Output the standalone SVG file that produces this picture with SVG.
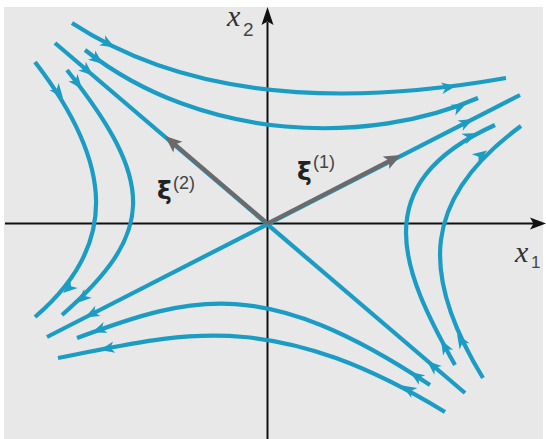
<svg xmlns="http://www.w3.org/2000/svg" xmlns:xlink="http://www.w3.org/1999/xlink" width="546" height="439" viewBox="0 0 546 439">
<style>
.traj{fill:none;stroke:#1a9cc4;stroke-width:4.2;stroke-linecap:butt}
.axis{fill:none;stroke:#111;stroke-width:2}
.vec{fill:none;stroke:#6a6a6a;stroke-width:4.2}
.lab{font-family:"Liberation Serif","Times New Roman",serif;font-style:italic;fill:#333}
.sub{font-family:"Liberation Sans",Arial,sans-serif;fill:#444}
.xi{font-family:"DejaVu Sans","Liberation Sans",sans-serif;font-weight:bold;fill:#222}
</style>
<defs>
<path id="ah" d="M0,0 L-14.5,-5.8 L-10.5,0 L-14.5,5.8 Z" fill="#1a9cc4"/>
<path id="gh" d="M0,0 L-17,-7 L-13,0 L-17,7 Z" fill="#6a6a6a"/>
</defs>
<rect x="0" y="0" width="546" height="439" fill="#ffffff"/>
<rect x="4" y="7" width="539" height="432" fill="#e8e8e8"/>

<g id="axes">
<path class="axis" d="M5,223.5 H534"/>
<path d="M546,223.5 L530,217.5 L533.5,223.5 L530,229.5 Z" fill="#111"/>
<path class="axis" d="M267.5,439 V22"/>
<path d="M267.5,7 L261.5,25 L267.5,21.5 L273.5,25 Z" fill="#111"/>
<text class="lab" x="227" y="26" font-size="30">x</text>
<text class="sub" x="243" y="36" font-size="19">2</text>
<text class="lab" x="515" y="262" font-size="30">x</text>
<text class="sub" x="531" y="268" font-size="17">1</text>
</g>

<g id="connectors">
<path class="traj" d="M55,43 L465,393"/>
<path class="traj" d="M47,337 L520,95"/>
<path class="traj" d="M72,23 C197,105 358,104 506,78"/>
<path class="traj" d="M85,50 C203.5,143 370,145 478,98"/>
<path class="traj" d="M35,62 C114.3,164.7 118.6,245.5 35,317"/>
<path class="traj" d="M67,70 C156.9,183.1 155,233.2 62,315"/>
<path class="traj" d="M430,385 C264.3,275.2 193.6,294.6 77,338"/>
<path class="traj" d="M445,412 C268.7,304.3 176.9,335 58,358"/>
<path class="traj" d="M455,365 C402.2,271.2 363.8,184.1 495,125"/>
<path class="traj" d="M483,378 C419.3,273.9 421.9,198.2 521,126"/>

<use xlink:href="#ah" transform="translate(114.6,47.5) rotate(30)"/>
<use xlink:href="#ah" transform="translate(456,86) rotate(-9)"/>
<use xlink:href="#ah" transform="translate(103,64) rotate(38)"/>
<use xlink:href="#ah" transform="translate(466,104) rotate(-25)"/>
<use xlink:href="#ah" transform="translate(93,75.5) rotate(40.4)"/>
<use xlink:href="#ah" transform="translate(427,361) rotate(-139.6)"/>
<use xlink:href="#ah" transform="translate(473,119) rotate(-27)"/>
<use xlink:href="#ah" transform="translate(85,317.5) rotate(153)"/>
<use xlink:href="#ah" transform="translate(63,98) rotate(52)"/>
<use xlink:href="#ah" transform="translate(63,293) rotate(139.5)"/>
<use xlink:href="#ah" transform="translate(82,89) rotate(51.5)"/>
<use xlink:href="#ah" transform="translate(77,303) rotate(139)"/>
<use xlink:href="#ah" transform="translate(410,372) rotate(-146.5)"/>
<use xlink:href="#ah" transform="translate(92,332.4) rotate(159.6)"/>
<use xlink:href="#ah" transform="translate(402,385.5) rotate(-148.6)"/>
<use xlink:href="#ah" transform="translate(100,349.9) rotate(169)"/>
<use xlink:href="#ah" transform="translate(441,340) rotate(-119.4)"/>
<use xlink:href="#ah" transform="translate(477,133) rotate(-24.3)"/>
<use xlink:href="#ah" transform="translate(457,334) rotate(-121.5)"/>
<use xlink:href="#ah" transform="translate(487,150.5) rotate(-36)"/>
</g>

<g id="xi1">
<path class="vec" d="M267.5,223.5 L390,160.6"/>
<use xlink:href="#gh" transform="translate(401,155) rotate(-27.2)"/>
<text class="xi" x="297" y="180" font-size="25">ξ</text>
<text class="sub" x="313" y="168" font-size="18">(1)</text>
</g>

<g id="xi2">
<path class="vec" d="M267.5,223.5 L175,144.5"/>
<use xlink:href="#gh" transform="translate(165,136) rotate(-139.4)"/>
<text class="xi" x="157" y="199" font-size="25">ξ</text>
<text class="sub" x="173" y="189" font-size="18">(2)</text>
</g>
</svg>
